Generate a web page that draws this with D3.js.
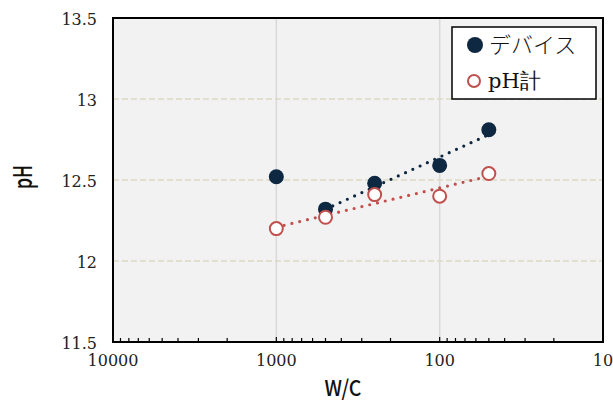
<!DOCTYPE html>
<html><head><meta charset="utf-8">
<script src="https://cdn.jsdelivr.net/npm/d3@7"></script>
<style>body{margin:0;background:#fff}svg{display:block}
.serif{font-family:"DejaVu Serif","Liberation Serif",serif}
.gothic{font-family:"Noto Sans CJK JP","DejaVu Sans",sans-serif}
</style>
</head><body><svg id="c" width="613" height="403"></svg>
<script>
const wcValues = [1000, 500, 250, 100, 50];
const deviceValues = [12.52, 12.32, 12.48, 12.59, 12.81];
const meterValues = [12.20, 12.27, 12.41, 12.40, 12.54];
const seriesNames = ["デバイス", "pH計"];
const xTickLabels = [10000, 1000, 100, 10];
const yTickLabels = [11.5, 12, 12.5, 13, 13.5];

const svg = d3.select("#c");
const L = 113, R = 603, T = 18, B = 342;
const x = d3.scaleLog().domain([10000, 10]).range([L, R]);
const y = d3.scaleLinear().domain([11.5, 13.5]).range([B, T]);

svg.append("rect").attr("x", L).attr("y", T).attr("width", R - L).attr("height", B - T).attr("fill", "#f2f2f2");

svg.append("g").selectAll("line").data([1000, 100]).join("line")
  .attr("x1", d => x(d)).attr("x2", d => x(d)).attr("y1", T).attr("y2", B)
  .attr("stroke", "#d9d9d9").attr("stroke-width", 1.5);
svg.append("g").selectAll("line").data([12, 12.5, 13]).join("line")
  .attr("x1", L).attr("x2", R).attr("y1", d => y(d)).attr("y2", d => y(d))
  .attr("stroke", "#ddd9c3").attr("stroke-width", 1.5).attr("stroke-dasharray", "6,3");

const minor = [];
for (const dec of [1000, 100, 10]) for (let k = 2; k <= 9; k++) minor.push(dec * k);
svg.append("g").selectAll("line").data(minor).join("line")
  .attr("x1", d => x(d)).attr("x2", d => x(d)).attr("y1", B).attr("y2", B - 4)
  .attr("stroke", "#000").attr("stroke-width", 1.2);
svg.append("g").selectAll("line").data(xTickLabels).join("line")
  .attr("x1", d => x(d)).attr("x2", d => x(d)).attr("y1", B).attr("y2", B - 5)
  .attr("stroke", "#000").attr("stroke-width", 1.2);

function logFit(xs, ys) {
  const lx = xs.map(v => Math.log(v));
  const mx = d3.mean(lx), my = d3.mean(ys);
  let num = 0, den = 0;
  lx.forEach((v, i) => { num += (v - mx) * (ys[i] - my); den += (v - mx) * (v - mx); });
  const a = num / den, b = my - a * mx;
  return v => a * Math.log(v) + b;
}
const devFit = logFit(wcValues.slice(1), deviceValues.slice(1));
const metFit = logFit(wcValues, meterValues);
svg.append("line").attr("x1", x(500)).attr("x2", x(50)).attr("y1", y(devFit(500))).attr("y2", y(devFit(50)))
  .attr("stroke", "#0e2841").attr("stroke-width", 3.2).attr("stroke-linecap", "round").attr("stroke-dasharray", "0,8");
svg.append("line").attr("x1", x(1000)).attr("x2", x(50)).attr("y1", y(metFit(1000))).attr("y2", y(metFit(50)))
  .attr("stroke", "#c0504d").attr("stroke-width", 3.2).attr("stroke-linecap", "round").attr("stroke-dasharray", "0,8");

svg.append("g").selectAll("circle").data(wcValues).join("circle")
  .attr("cx", d => x(d)).attr("cy", (d, i) => y(deviceValues[i])).attr("r", 7.5).attr("fill", "#0e2841");
svg.append("g").selectAll("circle").data(wcValues).join("circle")
  .attr("cx", d => x(d)).attr("cy", (d, i) => y(meterValues[i])).attr("r", 6.5).attr("fill", "#fff")
  .attr("stroke", "#c0504d").attr("stroke-width", 2);

svg.append("rect").attr("x", L).attr("y", T).attr("width", R - L).attr("height", B - T)
  .attr("fill", "none").attr("stroke", "#000").attr("stroke-width", 2);

svg.append("g").selectAll("text").data(yTickLabels).join("text").attr("class", "serif")
  .attr("x", 97).attr("y", d => y(d) + 7).attr("text-anchor", "end")
  .attr("font-size", 16).attr("fill", "#222").text(d => d);
svg.append("g").selectAll("text").data(xTickLabels).join("text").attr("class", "serif")
  .attr("x", d => x(d)).attr("y", 366).attr("text-anchor", "middle")
  .attr("font-size", 16).attr("fill", "#222").text(d => d);

svg.append("text").attr("class", "gothic").attr("x", 343).attr("y", 396).attr("text-anchor", "middle")
  .attr("font-size", 22).attr("font-weight", 500).attr("fill", "#111")
  .attr("textLength", 37).attr("lengthAdjust", "spacingAndGlyphs").text("W/C");
svg.append("text").attr("class", "gothic").attr("transform", "translate(32,177) rotate(-90)").attr("text-anchor", "middle")
  .attr("font-size", 25).attr("font-weight", 500).attr("fill", "#111")
  .attr("textLength", 24).attr("lengthAdjust", "spacingAndGlyphs").text("pH");

svg.append("rect").attr("x", 452).attr("y", 27).attr("width", 144).attr("height", 72)
  .attr("fill", "#fff").attr("stroke", "#000").attr("stroke-width", 1.5);
svg.append("circle").attr("cx", 475).attr("cy", 45).attr("r", 8).attr("fill", "#0e2841");
svg.append("circle").attr("cx", 474).attr("cy", 81).attr("r", 6).attr("fill", "#fff").attr("stroke", "#c0504d").attr("stroke-width", 2);
svg.append("text").attr("class", "gothic").attr("x", 489).attr("y", 53).attr("font-size", 22).attr("font-weight", 300).attr("fill", "#111").text(seriesNames[0]);
svg.append("text").attr("class", "serif").attr("x", 488).attr("y", 88).attr("font-size", 21).attr("fill", "#111").text(seriesNames[1]);
</script></body></html>
